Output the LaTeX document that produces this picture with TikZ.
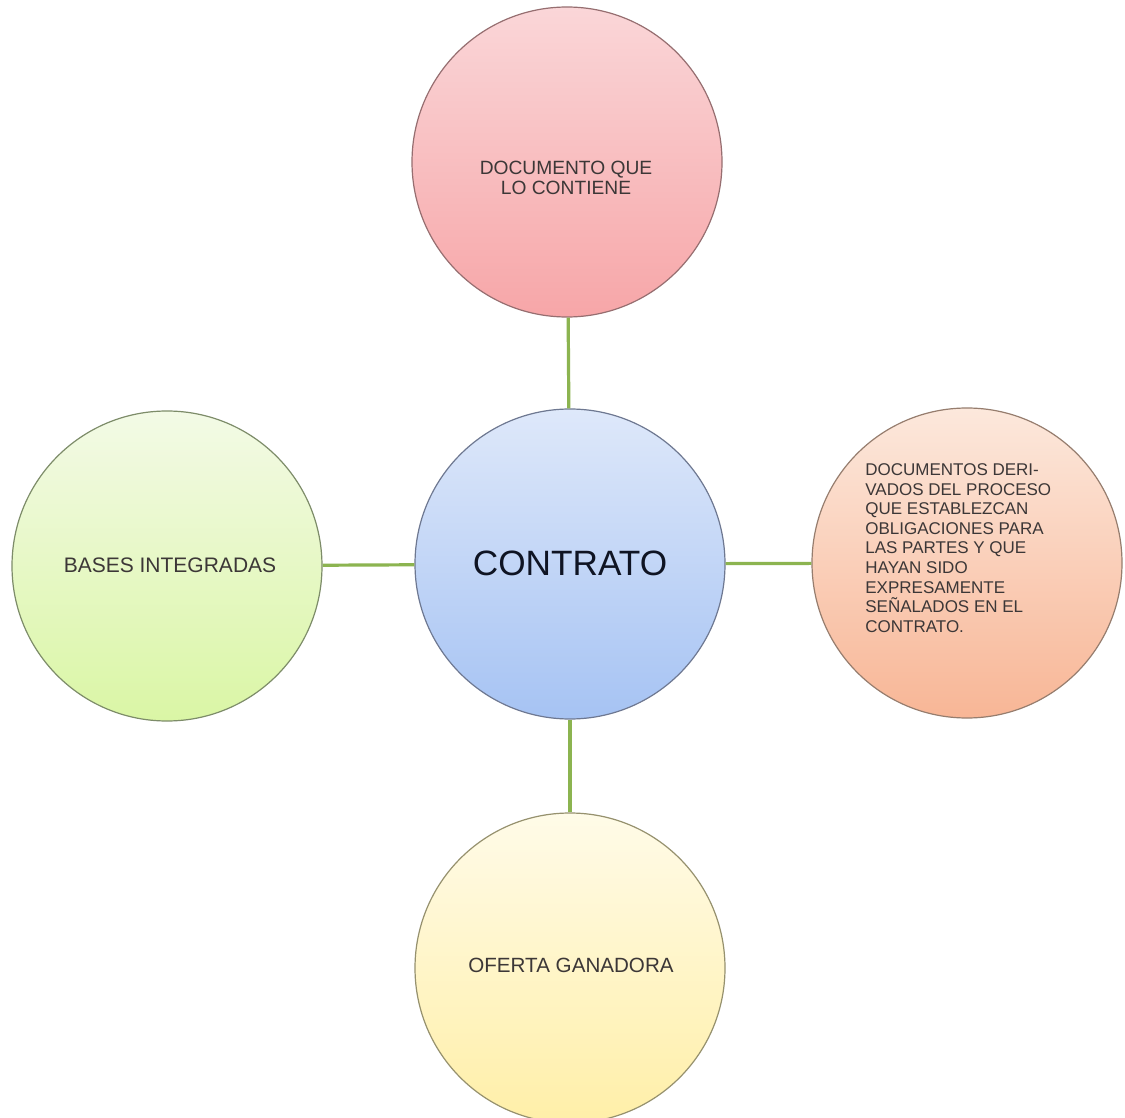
\documentclass[tikz,border=0pt]{standalone}
\usepackage{fontspec}
\setmainfont{Liberation Sans}
\definecolor{pinkT}{RGB}{250,214,216}
\definecolor{pinkB}{RGB}{247,166,168}
\definecolor{pinkD}{RGB}{150,110,112}
\definecolor{blueT}{RGB}{222,232,250}
\definecolor{blueB}{RGB}{166,195,243}
\definecolor{blueD}{RGB}{110,120,145}
\definecolor{greenT}{RGB}{243,250,230}
\definecolor{greenB}{RGB}{218,246,165}
\definecolor{greenD}{RGB}{125,140,105}
\definecolor{peachT}{RGB}{252,232,220}
\definecolor{peachB}{RGB}{248,182,150}
\definecolor{peachD}{RGB}{150,125,110}
\definecolor{yelT}{RGB}{255,251,232}
\definecolor{yelB}{RGB}{255,239,168}
\definecolor{yelD}{RGB}{150,145,110}
\definecolor{connC}{RGB}{140,180,80}
\definecolor{txtC}{RGB}{60,55,55}
\tikzset{
  bubble/.style={circle, minimum size=155pt, inner sep=0pt, line width=0.6pt},
  conn/.style={draw=connC, line width=1.6pt},
  lbl/.style={text=txtC, inner sep=0pt},
}
\begin{document}
\begin{tikzpicture}[x=0.5pt,y=-0.5pt]
\useasboundingbox (0,0) rectangle (1125,1118);
\fill[white] (0,0) rectangle (1125,1118);
% bubbles
\node[bubble, draw=pinkD, top color=pinkT, bottom color=pinkB] (top) at (567,162) {};
\node[bubble, draw=blueD, top color=blueT, bottom color=blueB] (center) at (570,564) {};
\node[bubble, draw=greenD, top color=greenT, bottom color=greenB] (left) at (167,566) {};
\node[bubble, draw=peachD, top color=peachT, bottom color=peachB] (right) at (967,563) {};
\node[bubble, draw=yelD, top color=yelT, bottom color=yelB] (bottom) at (570,968) {};
% connectors
\draw[conn] (top) -- (center);
\draw[conn] (center) -- (bottom);
\draw[conn] (left) -- (center);
\draw[conn] (center) -- (right);
% texts
\node[lbl, text={rgb,255:red,15;green,20;blue,35}, font=\fontsize{17.6}{20}\selectfont] (tCenter) at (570,563) {CONTRATO};
\node[lbl, align=center, font=\fontsize{9.6}{10}\selectfont] (tTop) at (566,178) {DOCUMENTO QUE\\LO CONTIENE};
\node[lbl, font=\fontsize{10.5}{12}\selectfont] (tLeft) at (170,565) {BASES INTEGRADAS};
\node[lbl, font=\fontsize{10.3}{12}\selectfont] (tBottom) at (571,965) {OFERTA GANADORA};
\node[lbl, align=left, anchor=west, font=\fontsize{8.5}{9.8}\selectfont] (tRight) at (865,548) {DOCUMENTOS DERI-\\VADOS DEL PROCESO\\QUE ESTABLEZCAN\\OBLIGACIONES PARA\\LAS PARTES Y QUE\\HAYAN SIDO\\EXPRESAMENTE\\SEÑALADOS EN EL\\CONTRATO.};
\end{tikzpicture}
\end{document}
